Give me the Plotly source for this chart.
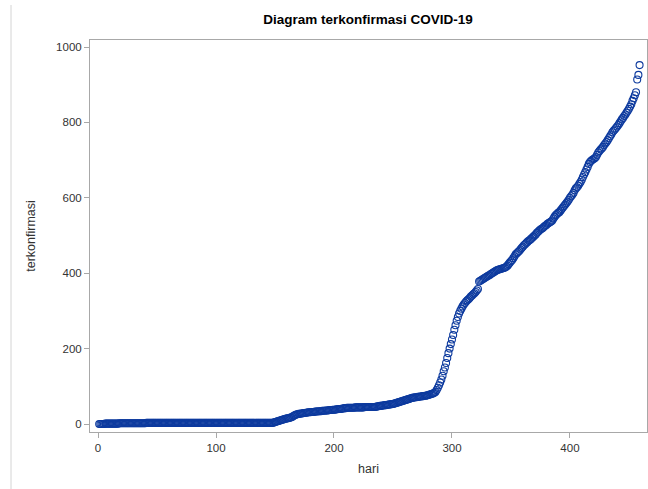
import plotly.graph_objects as go

hari = list(range(1, 460))

terkonfirmasi = [
    # days 1-17
    0, 0, 0, 0, 0, 1, 1, 1, 1, 1, 1, 1, 1, 1, 1, 1, 1,
    # days 18-40
    2, 2, 2, 2, 2, 2, 2, 2, 2, 2, 2, 2, 2, 2, 2, 2, 2, 2, 2, 2, 2, 2, 2,
    # days 41-148
    3, 3, 3, 3, 3, 3, 3, 3, 3, 3, 3, 3, 3, 3, 3, 3, 3, 3, 3, 3,
    3, 3, 3, 3, 3, 3, 3, 3, 3, 3, 3, 3, 3, 3, 3, 3, 3, 3, 3, 3,
    3, 3, 3, 3, 3, 3, 3, 3, 3, 3, 3, 3, 3, 3, 3, 3, 3, 3, 3, 3,
    3, 3, 3, 3, 3, 3, 3, 3, 3, 3, 3, 3, 3, 3, 3, 3, 3, 3, 3, 3,
    3, 3, 3, 3, 3, 3, 3, 3, 3, 3, 3, 3, 3, 3, 3, 3, 3, 3, 3, 3,
    3, 3, 3, 3, 3, 3, 3, 3,
    # days 149-167
    4, 5, 6, 7, 8, 9, 10, 11, 12, 13, 14, 15, 15, 16, 17, 18, 20, 22, 24,
    # days 168-175
    25, 26, 27, 27, 28, 28, 29, 29,
    # days 176-190
    30, 30, 31, 31, 31, 32, 32, 32, 33, 33, 33, 34, 34, 34, 35,
    # days 191-210
    35, 35, 36, 36, 36, 37, 37, 37, 38, 38, 38, 39, 39, 40, 40, 40, 41, 41, 42, 42,
    # days 211-235
    43, 43, 43, 43, 43, 43, 43, 44, 44, 44, 44, 44, 44, 44, 44,
    45, 45, 45, 45, 45, 45, 45, 45, 45, 45,
    # days 236-250
    46, 47, 47, 48, 48, 49, 49, 50, 50, 51, 51, 52, 52, 53, 53,
    # days 251-260
    54, 55, 56, 57, 58, 59, 60, 61, 62, 63,
    # days 261-285
    64, 65, 66, 67, 68, 69, 70, 70, 71, 71, 72, 72, 73, 73, 74, 74, 75, 75, 76, 77,
    78, 79, 80, 81, 83,
    # days 286-322
    85, 90, 96, 103, 110, 118, 128, 140, 150, 162, 175, 188, 200, 212, 224, 236,
    250, 262, 274, 284, 293, 300, 306, 312, 317, 321, 325, 328, 331, 334, 338,
    341, 344, 347, 350, 354, 358,
    # days 323-459
    378, 380, 382, 384, 386, 388, 390, 392, 394, 395,
    398, 400, 402, 404, 406, 408, 409, 410, 411, 412,
    413, 414, 415, 417, 420, 424, 428, 432, 435, 440,
    445, 450, 453, 456, 459, 463, 467, 470, 474, 477,
    480, 483, 486, 488, 491, 494, 497, 500, 503, 507,
    510, 513, 516, 518, 520, 523, 526, 528, 531, 533,
    535, 537, 540, 545, 550, 554, 557, 560, 562, 566,
    570, 574, 578, 582, 586, 590, 595, 600, 604, 608,
    613, 620, 625, 628, 632, 637, 642, 648, 655, 662,
    668, 675, 682, 690, 695, 698, 701, 703, 705, 708,
    714, 720, 724, 728, 731, 735, 740, 744, 748, 753,
    758, 763, 768, 774, 778, 781, 785, 789, 793, 798,
    803, 808, 812, 817, 821, 826, 831, 836, 842, 848,
    857, 864, 872, 880, 914, 926, 952,
]

x_ticks = [0, 100, 200, 300, 400]
y_ticks = [0, 200, 400, 600, 800, 1000]

FONT = "Liberation Sans, Arial, sans-serif"

fig = go.Figure()
fig.add_trace(go.Scatter(
    x=hari[:len(terkonfirmasi)],
    y=terkonfirmasi,
    mode="markers",
    marker=dict(symbol="circle-open", size=7, color="#0d3a9e", line=dict(width=1.1)),
    showlegend=False,
    hoverinfo="skip",
))

axis_common = dict(
    showgrid=False, zeroline=False,
    showline=True, linecolor="#a8a8a8", linewidth=1, mirror=True,
    ticks="outside", ticklen=5, tickcolor="#a8a8a8", tickwidth=1,
    tickfont=dict(family=FONT, size=11.5, color="#333333"),
)

fig.update_layout(
    width=648, height=489,
    margin=dict(l=90, r=1, t=40, b=57),
    paper_bgcolor="white", plot_bgcolor="white",
    title=dict(
        text="<b>Diagram terkonfirmasi COVID-19</b>",
        x=368 / 648, xanchor="center",
        y=1 - 19 / 489, yanchor="middle",
        font=dict(family=FONT, size=13.5, color="#000000"),
    ),
    xaxis=dict(
        range=[-6.8, 465.3], tickvals=x_ticks,
        title=dict(text="hari", standoff=11,
                   font=dict(family=FONT, size=12.5, color="#333333")),
        **axis_common,
    ),
    yaxis=dict(
        range=[-21.2, 1018.6], tickvals=y_ticks,
        title=dict(text="terkonfirmasi", standoff=17,
                   font=dict(family=FONT, size=12.5, color="#333333")),
        **axis_common,
    ),
    shapes=[dict(
        type="line", xref="paper", yref="paper",
        x0=(11 - 90) / 557, x1=(11 - 90) / 557,
        y0=(432 - 5) / 392, y1=(432 - 489) / 392,
        line=dict(color="#d4d4d4", width=1),
    )],
)

fig.write_html(
    "out.html",
    config={"displayModeBar": False},
    post_script="document.body.style.margin='0';document.body.style.overflow='hidden';",
)
